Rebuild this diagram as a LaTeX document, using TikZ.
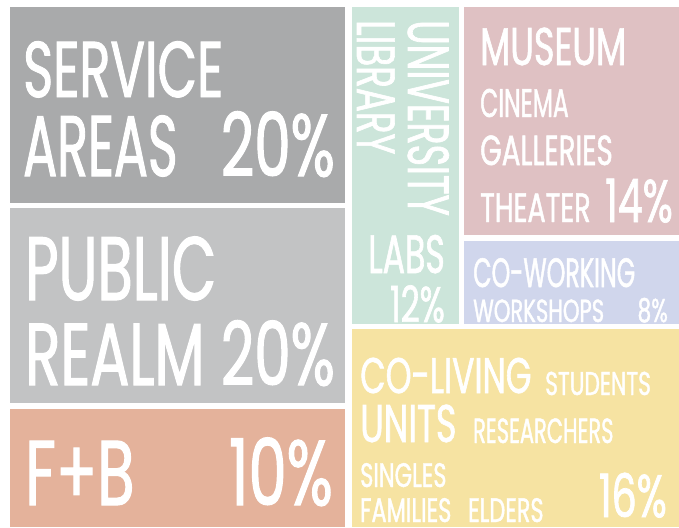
\documentclass[tikz,border=0pt]{standalone}
\usepackage{fontspec}
\usepackage{graphicx}
\setmainfont{Poppins}[FakeStretch=0.66, FakeBold=1.2]
\usetikzlibrary{positioning}

\definecolor{servgray}{HTML}{A9AAAB}
\definecolor{pubgray}{HTML}{C2C3C4}
\definecolor{fbsalmon}{HTML}{E4B29B}
\definecolor{univmint}{HTML}{CCE5DA}
\definecolor{musrose}{HTML}{DFC1C3}
\definecolor{cowblue}{HTML}{D0D6EC}
\definecolor{colyellow}{HTML}{F6E3A2}

\newcommand{\fsz}[1]{\fontsize{#1}{#1}\selectfont}
\newcommand{\narrow}[2]{\scalebox{#1}[1]{#2}}

\begin{document}
\begin{tikzpicture}[x=1pt, y=-1pt,
	lbl/.style={text=white, inner sep=0pt, text depth=0pt, anchor=base west},
	pct/.style={text=white, inner sep=0pt, text depth=0pt, anchor=base east}]
	\useasboundingbox (0,0) rectangle (679,527);
	% blocks
	\fill[servgray] (10,7) rectangle (345,203);
	\fill[pubgray] (10,208) rectangle (345,403);
	\fill[fbsalmon] (10,409) rectangle (345,527);
	\fill[univmint] (352,7) rectangle (459,324);
	\fill[musrose] (464,7) rectangle (679,235);
	\fill[cowblue] (464,241) rectangle (679,324);
	\fill[colyellow] (352,329) rectangle (679,527);
	% service areas
	\node[lbl, font=\fsz{79}] (serv) at (23,97) {\narrow{0.98}{SERVICE}};
	\node[lbl, font=\fsz{86}] (areas) at (23,176) {\narrow{0.89}{AREAS}};
	\node[pct, font=\fsz{88}] (servpct) at (335,176) {20\%};
	% public realm
	\node[lbl, font=\fsz{90}] (pub) at (25,300) {\narrow{0.97}{PUBLIC}};
	\node[lbl, font=\fsz{88}] (realm) at (25,385) {REALM};
	\node[pct, font=\fsz{88}] (pubpct) at (335,385) {20\%};
	% f+b
	\node[lbl, font=\fsz{92}] (fb) at (25,505) {F+B};
	\node[pct, font=\fsz{92}] (fbpct) at (333,505) {10\%};
	% university
	\node[lbl, font=\fsz{58}, rotate=-90] (univ) at (408,20) {\narrow{0.95}{UNIVERSITY}};
	\node[lbl, font=\fsz{54}, rotate=-90] (lib) at (357,20) {LIBRARY};
	\node[pct, font=\fsz{54}] (labs) at (445,273) {\narrow{0.93}{LABS}};
	\node[pct, font=\fsz{50}] (univpct) at (445,322) {12\%};
	% museum
	\node[lbl, font=\fsz{53}] (mus) at (480,65) {MUSEUM};
	\node[lbl, font=\fsz{40}] (cin) at (480,117) {\narrow{0.89}{CINEMA}};
	\node[lbl, font=\fsz{42}] (gal) at (480,165) {GALLERIES};
	\node[lbl, font=\fsz{41}] (the) at (480,222) {THEATER};
	\node[pct, font=\fsz{60}] (muspct) at (673,222) {14\%};
	% co-working
	\node[lbl, font=\fsz{41}] (cow) at (473,287) {\narrow{0.88}{CO-WORKING}};
	\node[lbl, font=\fsz{32}] (wsh) at (473,322) {WORKSHOPS};
	\node[pct, font=\fsz{33}] (cowpct) at (668,322) {8\%};
	% co-living
	\node[lbl, font=\fsz{50}] (col) at (360,393) {CO-LIVING};
	\node[lbl, font=\fsz{33}] (stu) at (545,395) {STUDENTS};
	\node[lbl, font=\fsz{53}] (units) at (360,442) {UNITS};
	\node[lbl, font=\fsz{35}] (res) at (473,443) {\narrow{0.91}{RESEARCHERS}};
	\node[lbl, font=\fsz{34}] (sing) at (360,487) {SINGLES};
	\node[lbl, font=\fsz{34}] (fam) at (360,522) {FAMILIES};
	\node[lbl, font=\fsz{34}] (eld) at (468,522) {ELDERS};
	\node[pct, font=\fsz{60}] (colpct) at (667,517) {16\%};
\end{tikzpicture}
\end{document}
